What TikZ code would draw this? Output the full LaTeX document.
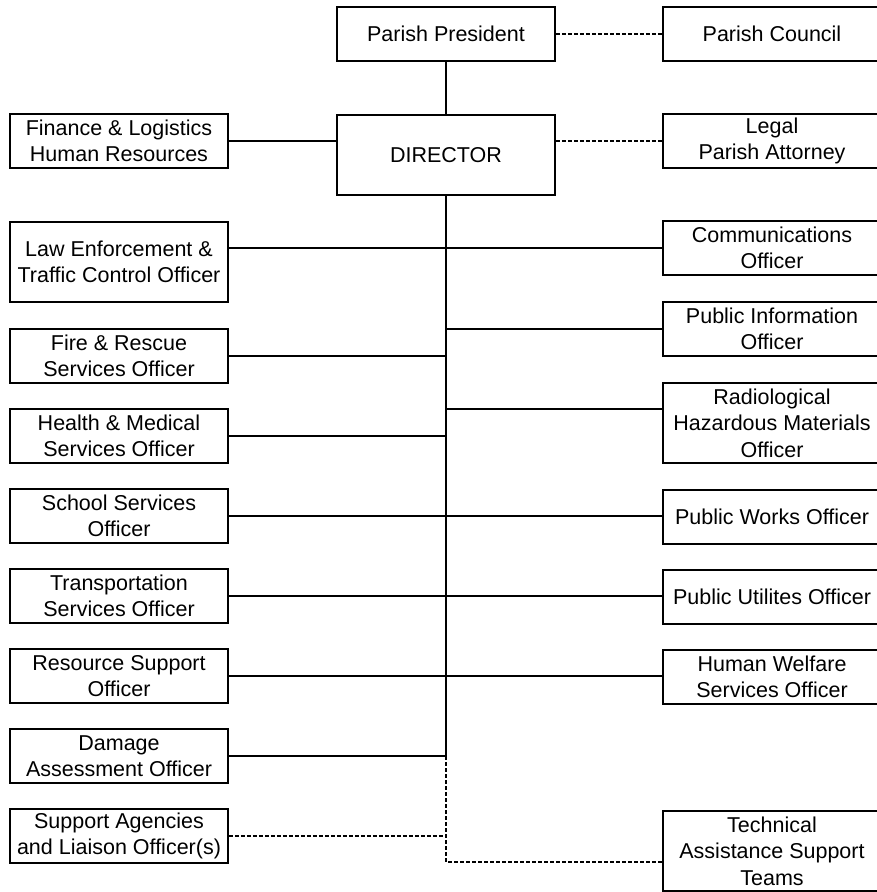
\documentclass[tikz,border=0pt]{standalone}
\usepackage{fontspec}
\setmainfont{Liberation Sans}
\usetikzlibrary{positioning}

\begin{document}
\begin{tikzpicture}[x=1pt,y=1pt,node distance=80pt,
	box/.style={draw,line width=1.6pt,minimum width=218pt,minimum height=54pt,inner sep=0pt,align=center,font=\fontsize{21.5}{26.5}\selectfont},
	tall/.style={box,minimum height=80pt},
	solidline/.style={line width=1.6pt},
	dotline/.style={line width=1.2pt,dash pattern=on 4pt off 2pt}]
		\useasboundingbox (0,0) rectangle (876,-892);
		\node[box](PP) at (446,-34){Parish President};
		\node[box](PC)[right of=PP, node distance=326pt]{Parish Council};
		\node[tall](D)[below of=PP, node distance=121pt]{DIRECTOR};
		\node[box](FL) at (119,-141){Finance \& Logistics\\Human Resources};
		\node[box](LG)[right of=FL, node distance=653pt]{Legal\\Parish Attorney};
		\node[tall](LE)[below of=FL, node distance=121pt]{Law Enforcement \&\\Traffic Control Officer};
		\node[box](FR)[below of=LE, node distance=94pt]{Fire \& Rescue\\Services Officer};
		\node[box](HM)[below of=FR]{Health \& Medical\\Services Officer};
		\node[box](SS)[below of=HM]{School Services\\Officer};
		\node[box](TS)[below of=SS]{Transportation\\Services Officer};
		\node[box](RS)[below of=TS]{Resource Support\\Officer};
		\node[box](DA)[below of=RS]{Damage\\Assessment Officer};
		\node[box](SA)[below of=DA]{Support Agencies\\and Liaison Officer(s)};
		\node[box](CO)[below of=LG, node distance=107pt]{Communications\\Officer};
		\node[box](PI)[below of=CO, node distance=81pt]{Public Information\\Officer};
		\node[tall](RH)[below of=PI, node distance=94pt]{Radiological\\Hazardous Materials\\Officer};
		\node[box](PW)[below of=RH, node distance=94pt]{Public Works Officer};
		\node[box](PU)[below of=PW]{Public Utilites Officer};
		\node[box](HW)[below of=PU]{Human Welfare\\Services Officer};
		\node[tall](TA)[below of=HW, node distance=174pt]{Technical\\Assistance Support\\Teams};
		\coordinate (TJ) at ([yshift=-11pt]TA.west);
		\draw[solidline]
		(PP) -- (D)
		(FL.east) -- (FL.east -| D.west)
		(D.south) -- (D.south |- DA.east)
		(CO.west -| LE.east) -- (CO.west)
		(FR.east) -- (FR.east -| D.south)
		(PI.west) -- (PI.west -| D.south)
		([yshift=14pt]RH.west) -- ([yshift=14pt]RH.west -| D.south)
		(HM.east) -- (HM.east -| D.south)
		(SS.east) -- (SS.east -| PW.west)
		(TS.east) -- (TS.east -| PU.west)
		(RS.east) -- (RS.east -| HW.west)
		(DA.east) -- (DA.east -| D.south);
		\draw[dotline]
		(PP) -- (PC)
		(D.east |- LG.west) -- (LG.west)
		(SA.east) -- (SA.east -| D.south)
		(D.south |- DA.east) -- (D.south |- TJ) -- (TJ);
\end{tikzpicture}
\end{document}
